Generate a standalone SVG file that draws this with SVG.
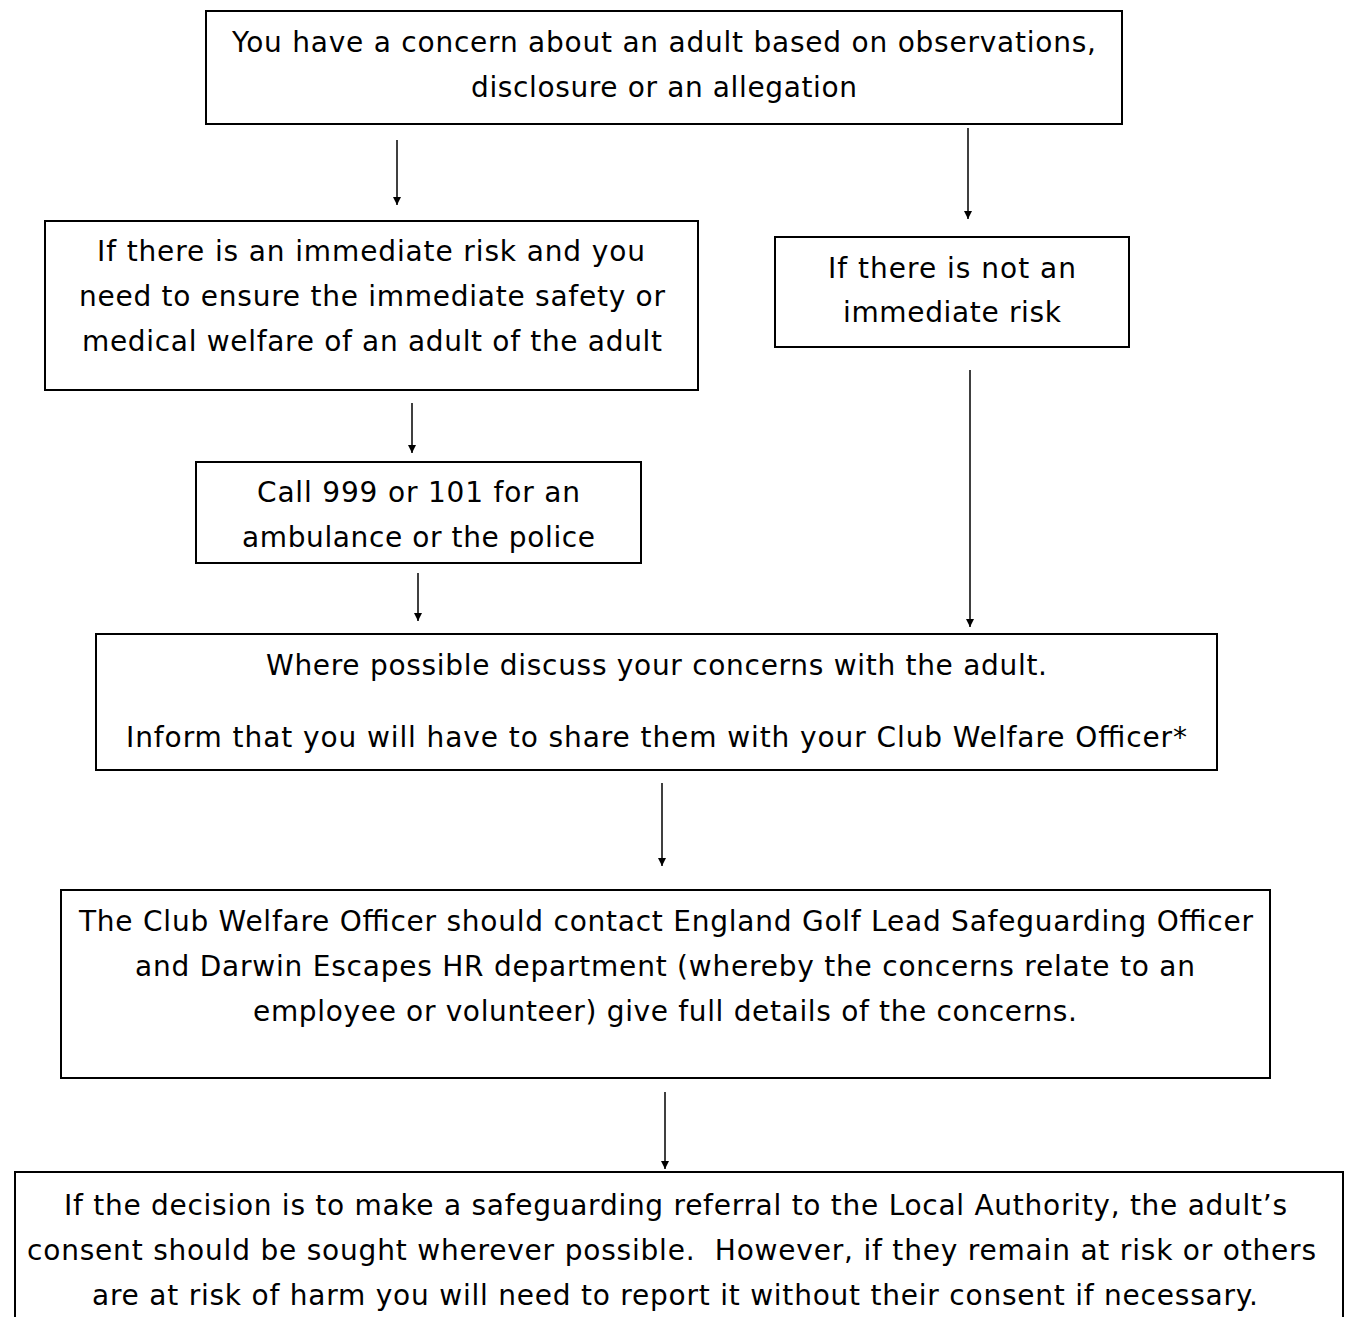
<svg xmlns="http://www.w3.org/2000/svg" width="1348" height="1317" viewBox="0 0 1348 1317">
<style>
.box{fill:#fff;stroke:#000;stroke-width:2}
.t{font-family:"DejaVu Sans","Verdana",sans-serif;font-size:28px;fill:#000;text-anchor:middle}
.c{stroke:#000;stroke-width:1.5;fill:none;marker-end:url(#ah)}
</style>
<defs>
<marker id="ah" viewBox="0 0 10 10" refX="10" refY="5" markerWidth="8" markerHeight="8" markerUnits="userSpaceOnUse" orient="auto"><path d="M0,0 L10,5 L0,10 Z" fill="#000"/></marker>
</defs>
<rect width="1348" height="1317" fill="#fff"/>
<g id="n1"><rect class="box" x="206" y="11" width="916" height="113"/>
<text class="t" x="664" y="52" textLength="864" lengthAdjust="spacing">You have a concern about an adult based on observations,</text>
<text class="t" x="664" y="97" textLength="386" lengthAdjust="spacing">disclosure or an allegation</text></g>
<g id="n2"><rect class="box" x="45" y="221" width="653" height="169"/>
<text class="t" x="371" y="261" textLength="548" lengthAdjust="spacing">If there is an immediate risk and you</text>
<text class="t" x="372" y="306" textLength="586" lengthAdjust="spacing">need to ensure the immediate safety or</text>
<text class="t" x="372" y="351" textLength="580" lengthAdjust="spacing">medical welfare of an adult of the adult</text></g>
<g id="n3"><rect class="box" x="775" y="237" width="354" height="110"/>
<text class="t" x="952" y="278" textLength="248" lengthAdjust="spacing">If there is not an</text>
<text class="t" x="952" y="322" textLength="218" lengthAdjust="spacing">immediate risk</text></g>
<g id="n4"><rect class="box" x="196" y="462" width="445" height="101"/>
<text class="t" x="418.5" y="502" textLength="323" lengthAdjust="spacing">Call 999 or 101 for an</text>
<text class="t" x="418.5" y="547" textLength="353" lengthAdjust="spacing">ambulance or the police</text></g>
<g id="n5"><rect class="box" x="96" y="634" width="1121" height="136"/>
<text class="t" x="656.5" y="675" textLength="781" lengthAdjust="spacing">Where possible discuss your concerns with the adult.</text>
<text class="t" x="656.5" y="747" textLength="1061" lengthAdjust="spacing">Inform that you will have to share them with your Club Welfare Officer*</text></g>
<g id="n6"><rect class="box" x="61" y="890" width="1209" height="188"/>
<text class="t" x="666" y="931" textLength="1174" lengthAdjust="spacing">The Club Welfare Officer should contact England Golf Lead Safeguarding Officer</text>
<text class="t" x="665" y="976" textLength="1060" lengthAdjust="spacing">and Darwin Escapes HR department (whereby the concerns relate to an</text>
<text class="t" x="665" y="1021" textLength="824" lengthAdjust="spacing">employee or volunteer) give full details of the concerns.</text></g>
<g id="n7"><rect class="box" x="15" y="1172" width="1328" height="160"/>
<text class="t" x="675.5" y="1215" textLength="1223" lengthAdjust="spacing">If the decision is to make a safeguarding referral to the Local Authority, the adult’s</text>
<text class="t" x="671.5" y="1260" textLength="1289" lengthAdjust="spacing" xml:space="preserve">consent should be sought wherever possible.  However, if they remain at risk or others</text>
<text class="t" x="675" y="1305" textLength="1166" lengthAdjust="spacing">are at risk of harm you will need to report it without their consent if necessary.</text></g>
<g id="connectors">
<line class="c" x1="397" y1="140" x2="397" y2="205"/>
<line class="c" x1="968" y1="128" x2="968" y2="219"/>
<line class="c" x1="412" y1="403" x2="412" y2="453"/>
<line class="c" x1="418" y1="573" x2="418" y2="621"/>
<line class="c" x1="970" y1="370" x2="970" y2="627"/>
<line class="c" x1="662" y1="783" x2="662" y2="866"/>
<line class="c" x1="665" y1="1092" x2="665" y2="1169"/>
</g>
</svg>
